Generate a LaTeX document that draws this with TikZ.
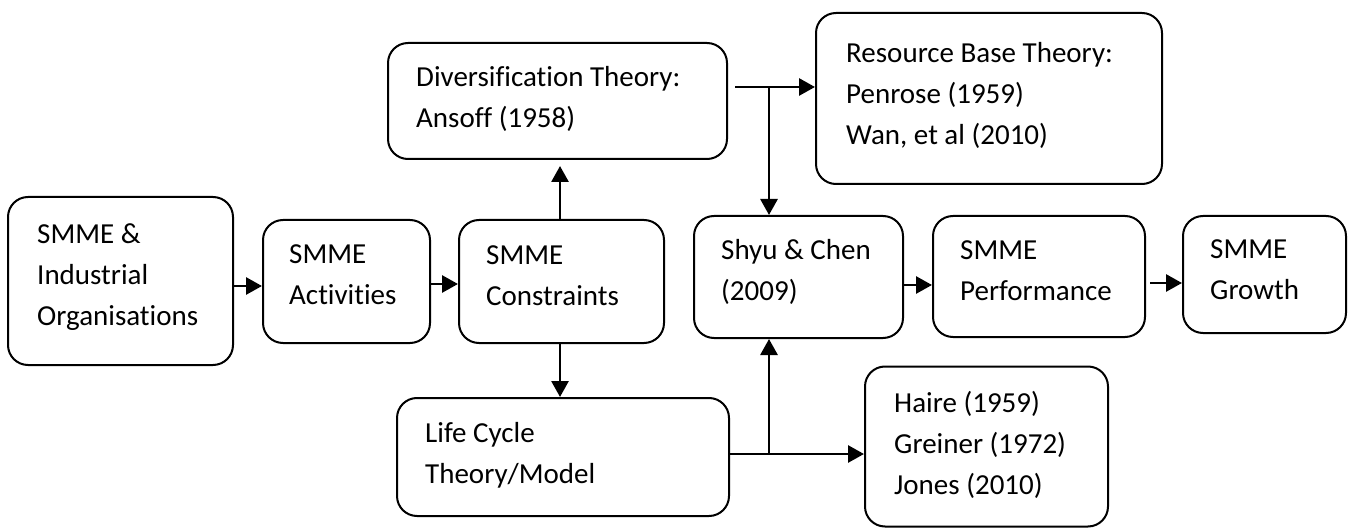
\documentclass[tikz,border=0pt]{standalone}
\usepackage{fontspec}
\setmainfont{Carlito}[Ligatures=NoCommon]
\usetikzlibrary{arrows.meta,calc}
% left-aligned lines whose first baseline is the node's base
\newcommand\stacklines[1]{\begin{tabular}[t]{@{}l@{}}#1\end{tabular}}

\begin{document}
\begin{tikzpicture}[x=1pt,y=-1pt,
  box/.style={draw,line width=2pt,rounded corners=20pt,inner sep=0pt},
  txt/.style={anchor=base west,inner sep=0pt,font=\fontsize{29}{41}\selectfont},
  ln/.style={line width=2.8pt},
  arr/.style={ln,-{Triangle[length=16pt,width=17pt]}}]

\useasboundingbox (0,0) rectangle (1352,529);

% boxes
\node[box,minimum width=225pt,minimum height=168pt] (org)    at (120.5,281)  {};
\node[box,minimum width=167pt,minimum height=123pt] (act)    at (346.5,281.5){};
\node[box,minimum width=205pt,minimum height=123pt] (con)    at (561.5,281.5){};
\node[box,minimum width=339pt,minimum height=116pt] (div)    at (557.5,101)  {};
\node[box,minimum width=346pt,minimum height=171pt] (res)    at (989,98.5)   {};
\node[box,minimum width=209pt,minimum height=122pt] (shyu)   at (798.5,277)  {};
\node[box,minimum width=212pt,minimum height=121pt] (perf)   at (1039,276.5) {};
\node[box,minimum width=163pt,minimum height=117pt] (grow)   at (1264.5,274.5){};
\node[box,minimum width=332pt,minimum height=118pt] (life)   at (563,457)    {};
\node[box,minimum width=243pt,minimum height=160pt] (haire)  at (986.5,446.5){};

% texts
\node[txt] (torg)  at (37,244)  {\stacklines{SMME \&\\Industrial\\Organisations}};
\node[txt] (tact)  at (289,264) {\stacklines{SMME\\Activities}};
\node[txt] (tcon)  at (486,265) {\stacklines{SMME\\Constraints}};
\node[txt] (tdiv)  at (416,87)  {\stacklines{Diversification Theory:\\Ansoff (1958)}};
\node[txt] (tres)  at (846,63)  {\stacklines{Resource Base Theory:\\Penrose (1959)\\Wan, et al (2010)}};
\node[txt] (tshyu) at (721,260) {\stacklines{Shyu \& Chen\\(2009)}};
\node[txt] (tperf) at (960,260) {\stacklines{SMME\\Performance}};
\node[txt] (tgrow) at (1210,259){\stacklines{SMME\\Growth}};
\node[txt] (tlife) at (425,442) {\stacklines{Life Cycle\\Theory/Model}};
\node[txt] (thai)  at (894,412) {\stacklines{Haire (1959)\\Greiner (1972)\\Jones (2010)}};

% main chain
\draw[arr] (org.east |- 0,286) -- (act.west |- 0,286);
\draw[arr] (act.east |- 0,284) -- (con.west |- 0,284);
\draw[arr] (shyu.east |- 0,285) -- (perf.west |- 0,285);
\draw[arr] ([xshift=4pt]perf.east |- 0,283) -- (grow.west |- 0,283);

% constraints up and down
\draw[arr,shorten >=6pt] (con.north -| 560,0) -- (div.south -| 560,0);
\draw[arr] (con.south -| 560,0) -- (life.north -| 560,0);

% diversification branch
\coordinate (jtop) at (769,87);
\draw[ln] ([xshift=7pt]div.east |- jtop) -- (jtop);
\draw[arr] (jtop) -- (res.west |- jtop);
\draw[arr] (jtop) -- (jtop |- shyu.north);

% life cycle branch
\coordinate (jbot) at (769,454);
\draw[ln] (life.east |- jbot) -- (jbot);
\draw[arr] (jbot) -- (haire.west |- jbot);
\draw[arr] (jbot) -- (jbot |- shyu.south);
\end{tikzpicture}
\end{document}
